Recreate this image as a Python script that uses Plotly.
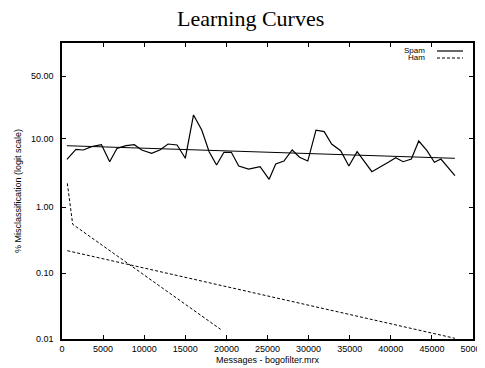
import numpy as np
import plotly.graph_objects as go

# ---- data (percent misclassification) ----
spam_x = [600, 1700, 2600, 3600, 4800, 5800, 6700, 7800, 8800, 9700, 10900, 11900, 12900,
          14000, 15000, 16000, 17000, 17900, 18800, 19700, 20600, 21500, 22700, 24100, 25200,
          26000, 27000, 28000, 28900, 29900, 30900, 31900, 32800, 33900, 34900, 35900, 37700,
          38800, 39700, 40600, 41500, 42500, 43400, 44400, 45300, 46100, 47800]
spam_pct = [5.13, 7.13, 6.98, 7.77, 8.28, 4.74, 7.37, 8.02, 8.28, 6.98, 6.26, 6.98, 8.47,
            8.21, 5.31, 20.4, 13.1, 6.60, 4.24, 6.47, 6.47, 4.10, 3.71, 4.01, 2.62,
            4.39, 4.85, 6.98, 5.49, 4.85, 13.1, 12.5, 8.47, 6.82, 4.10, 6.60, 3.39,
            4.01, 4.65, 5.42, 4.74, 5.19, 9.32, 6.82, 4.65, 5.19, 2.96]
spam_fit_x = [600, 47800]
spam_fit_pct = [8.02, 5.31]

ham_x = [650, 1300, 19300]
ham_pct = [2.28, 0.553, 0.0140]
ham_fit_x = [650, 47800]
ham_fit_pct = [0.220, 0.01025]

y_tick_pct = [0.01, 0.1, 1, 10, 50]
y_tick_text = ["0.01", "0.10", "1.00", "10.00", "50.00"]
x_tick_vals = list(range(0, 50001, 5000))


def logit(pct):
    p = np.asarray(pct, dtype=float) / 100.0
    return np.log(p / (1 - p))


fig = go.Figure()
fig.add_trace(go.Scatter(x=spam_x, y=logit(spam_pct), mode="lines",
                         line=dict(color="black", width=1.2), showlegend=False))
fig.add_trace(go.Scatter(x=spam_fit_x, y=logit(spam_fit_pct), mode="lines",
                         line=dict(color="black", width=1), showlegend=False))
fig.add_trace(go.Scatter(x=ham_x, y=logit(ham_pct), mode="lines",
                         line=dict(color="black", width=1, dash="3px,2px"), showlegend=False))
fig.add_trace(go.Scatter(x=ham_fit_x, y=logit(ham_fit_pct), mode="lines",
                         line=dict(color="black", width=1, dash="3px,2px"), showlegend=False))

OFF = 8  # page body margin
L, R, T, B = 62 - OFF, 473 - OFF, 43 - OFF, 339 - OFF
W, H = 485 - OFF, 368 - OFF
pw, ph = R - L, B - T


def px_x(x):
    return (x - OFF - L) / pw


def px_y(y):
    return (B - (y - OFF)) / ph


axis_common = dict(showline=True, linecolor="black", linewidth=1.5, mirror="allticks",
                   ticks="inside", ticklen=4, tickcolor="black", tickwidth=1,
                   showgrid=False, zeroline=False, automargin=False,
                   tickfont=dict(family="Liberation Sans", size=9, color="black"))

fig.update_layout(
    width=W, height=H,
    margin=dict(l=L, r=W - R, t=T, b=H - B, autoexpand=False),
    paper_bgcolor="white", plot_bgcolor="white",
    xaxis=dict(range=[0, 50000], tickvals=x_tick_vals, ticklabeloverflow="allow",
               ticktext=[str(v) for v in x_tick_vals], **axis_common),
    yaxis=dict(range=[float(logit([0.01])[0]), 1.158], tickvals=logit(y_tick_pct),
               ticktext=y_tick_text, ticklabelstandoff=5, **axis_common),
    showlegend=False,
)

annots = [
    dict(text="Learning Curves", x=px_x(250), y=px_y(18.5), xref="paper", yref="paper",
         showarrow=False, xanchor="center", yanchor="middle", borderpad=0,
         font=dict(family="Liberation Serif", size=22, color="black")),
    dict(text="Messages - bogofilter.mrx", x=0.5, y=px_y(360), xref="paper", yref="paper",
         showarrow=False, font=dict(family="Liberation Sans", size=9, color="black"),
         xanchor="center", yanchor="middle"),
    dict(text="% Misclassification (logit scale)", x=px_x(18), y=0.5, xref="paper", yref="paper",
         showarrow=False, textangle=-90, font=dict(family="Liberation Sans", size=9, color="black"),
         xanchor="center", yanchor="middle"),
    dict(text="Spam", x=px_x(427), y=px_y(51), xref="paper", yref="paper", showarrow=False,
         xanchor="right", yanchor="middle", font=dict(family="Liberation Sans", size=8, color="black")),
    dict(text="Ham", x=px_x(427), y=px_y(58), xref="paper", yref="paper", showarrow=False,
         xanchor="right", yanchor="middle", font=dict(family="Liberation Sans", size=8, color="black")),
]
fig.update_layout(annotations=annots)
fig.add_shape(type="line", xref="paper", yref="paper", x0=px_x(437), x1=px_x(463),
              y0=px_y(51), y1=px_y(51), line=dict(color="black", width=1.2))
fig.add_shape(type="line", xref="paper", yref="paper", x0=px_x(437), x1=px_x(463),
              y0=px_y(58), y1=px_y(58), line=dict(color="black", width=1, dash="3px,2px"))

fig.write_html("out.html")
